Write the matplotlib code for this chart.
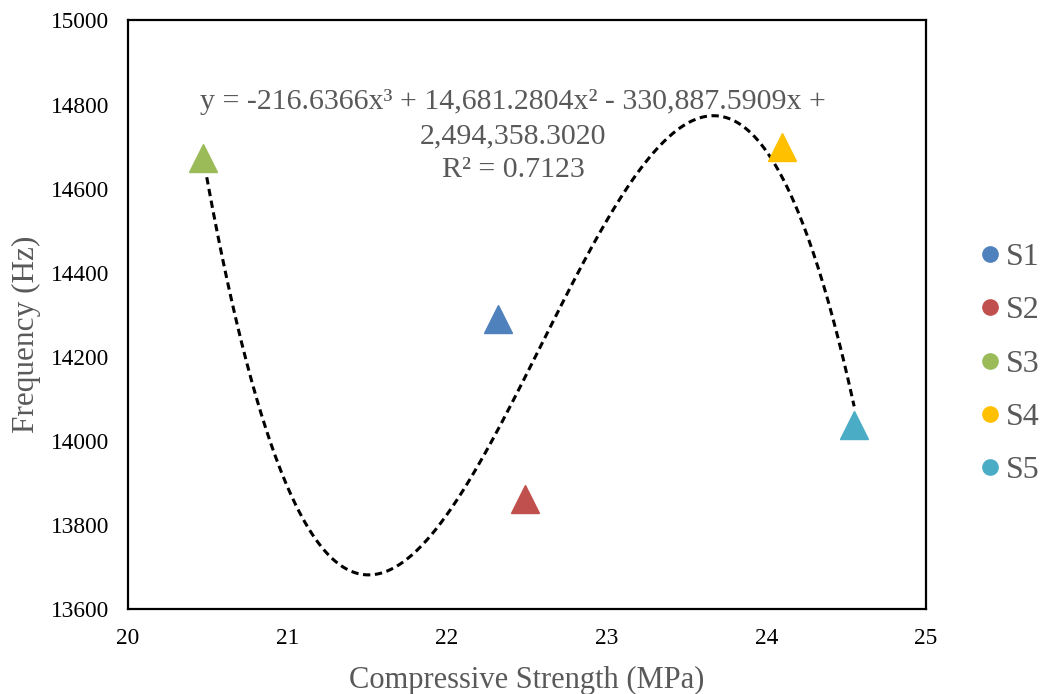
import numpy as np
import matplotlib
matplotlib.use("Agg")
import matplotlib.pyplot as plt
from matplotlib.lines import Line2D

# Data
series_names = ["S1", "S2", "S3", "S4", "S5"]
strength = [22.32, 22.49, 20.47, 24.10, 24.55]
frequency = [14289, 13861, 14674, 14698, 14037]
colors = ["#4F81BD", "#C0504D", "#9BBB59", "#FFC000", "#4BACC6"]
trend_coeffs = [-216.6366, 14681.2804, -330887.5909, 2494358.3020]
trend_text = "y = -216.6366x³ + 14,681.2804x² - 330,887.5909x +\n2,494,358.3020\nR² = 0.7123"
x_ticks = [20, 21, 22, 23, 24, 25]
y_ticks = [13600, 13800, 14000, 14200, 14400, 14600, 14800, 15000]

plt.rcParams['font.family'] = ['Liberation Serif', 'DejaVu Serif']

W, H = 1049, 694
fig = plt.figure(figsize=(W / 100, H / 100), dpi=100)
L, R, T, B = 127.5, 926, 20.5, 609
ax = fig.add_axes([L / W, 1 - B / H, (R - L) / W, (B - T) / H])

# trendline
xs = np.linspace(min(strength), max(strength), 400)
ys = np.polyval(trend_coeffs, xs)
ax.plot(xs, ys, color="black", lw=2.2, ls=(0, (2.4, 1.5)), zorder=2)

for n, x, y, c in zip(series_names, strength, frequency, colors):
    ax.plot([x], [y], marker="^", ms=19.5, color=c, ls="none", zorder=3)

ax.set_xlim(20, 25)
ax.set_ylim(13600, 15000)
ax.set_xticks(x_ticks)
ax.set_yticks(y_ticks)
ax.tick_params(length=0, labelsize=16.8, colors="black")
ax.tick_params(axis="x", pad=14)
ax.tick_params(axis="y", pad=13)
for s in ax.spines.values():
    s.set_linewidth(1.6)
    s.set_color("black")

fig.text((L + R) / 2 / W, 1 - 688 / H, "Compressive Strength (MPa)", fontsize=22,
         color="#595959", ha="center", va="baseline")
fig.text(26 / W, 1 - 334 / H, "Frequency (Hz)", fontsize=22.5, color="#595959",
         ha="center", va="center", rotation=90)

ax.text((513 - L) / (R - L), 1 - (136 - T) / (B - T), trend_text, transform=ax.transAxes,
        ha="center", va="center", fontsize=21.5, color="#595959", linespacing=1.42,
        multialignment="center")

handles = [Line2D([], [], marker="o", ms=11, color=c, ls="none") for c in colors]
fs = 23
leg = fig.legend(handles, series_names, loc="center left",
                 bbox_to_anchor=(980 / W, 1 - 364 / H),
                 frameon=False, fontsize=fs, labelspacing=0.75, handletextpad=0.2,
                 handlelength=0.6, borderaxespad=0, borderpad=0)
for t in leg.get_texts():
    t.set_color("#595959")

fig.savefig("out.png", dpi=100)
